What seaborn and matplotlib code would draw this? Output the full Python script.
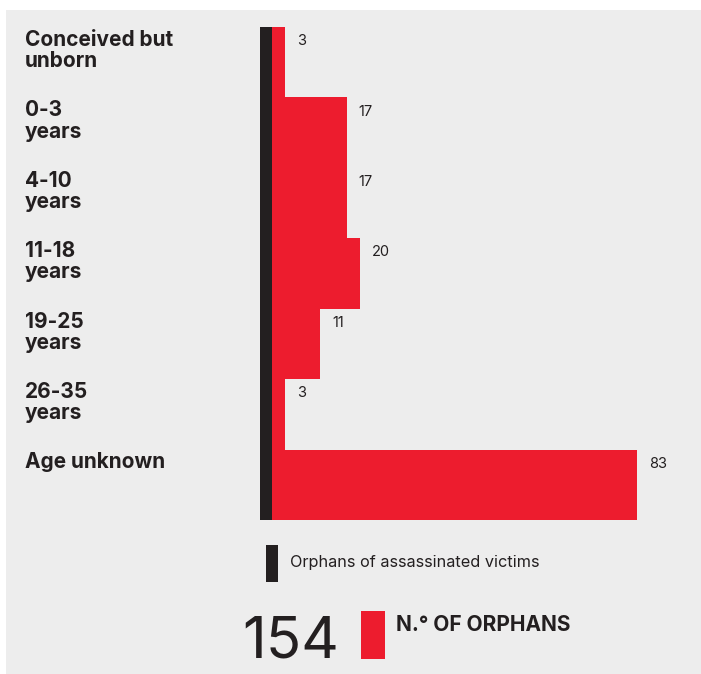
import pandas as pd
import matplotlib.pyplot as plt
import seaborn as sns
from matplotlib.patches import Rectangle

# Data.

age_groups = ['Conceived but\nunborn', '0-3\nyears', '4-10\nyears', '11-18\nyears',
              '19-25\nyears', '26-35\nyears', 'Age unknown']
orphans = [3, 17, 17, 20, 11, 3, 83]
total_orphans = 154

red = '#ed1c2e'
dark = '#231f20'
grey = '#ededed'

df = pd.DataFrame({'group': age_groups, 'orphans': orphans})

sns.set_style('white')
plt.rcParams['font.family'] = ['Inter', 'DejaVu Sans']

W, H = 701, 674
fig = plt.figure(figsize=(W / 100, H / 100), dpi=100)
fig.patch.set_facecolor('white')

# Grey panel behind everything.
fig.patches.append(Rectangle((6 / W, 0), 1, (H - 10) / H, transform=fig.transFigure,
                             facecolor=grey, edgecolor='none', zorder=-5))

# Axes placed so x=0 sits at the right edge of the black bar.
px_per_unit = 4.4
left_px, right_px, top_px, bot_px = 260, 697, 27, 520
ax = fig.add_axes([left_px / W, 1 - bot_px / H, (right_px - left_px) / W, (bot_px - top_px) / H])
ax.set_facecolor('none')
ax.set_zorder(2)

sns.barplot(data=df, x='orphans', y='group', orient='h', color=red, width=1.0,
            saturation=1, linewidth=0, ax=ax)
x0 = -(272 - left_px) / px_per_unit
ax.set_xlim(x0, x0 + (right_px - left_px) / px_per_unit)
ax.set_ylim(len(age_groups) - 0.5, -0.5)

# Black bar for orphans of assassinated victims.
ax.axvspan(x0, 0, color=dark, lw=0)

ax.set_xticks([])
ax.set_yticks([])
ax.set_xlabel('')
ax.set_ylabel('')
sns.despine(ax=ax, left=True, bottom=True)

# Category labels and values.
label_x = (25 - left_px) / (right_px - left_px)
for i, (g, v) in enumerate(zip(age_groups, orphans)):
    ax.text(label_x, i - 0.5 + 0.04, g, transform=ax.get_yaxis_transform(),
            ha='left', va='top', fontsize=15, fontweight='bold', color=dark,
            linespacing=1.08, clip_on=False)
    ax.text(v + 2.7, i - 0.5 + 0.2, str(v), ha='left', va='center',
            fontsize=10.5, color=dark)

# Legend and total.
fig.patches.append(Rectangle((266 / W, 1 - 582 / H), 12 / W, 37 / H, transform=fig.transFigure,
                             facecolor=dark, edgecolor='none', zorder=1))
fig.text(290 / W, 1 - 563 / H, 'Orphans of assassinated victims', ha='left', va='center',
         fontsize=11.7, color=dark)
fig.patches.append(Rectangle((361 / W, 1 - 659 / H), 24 / W, 48 / H, transform=fig.transFigure,
                             facecolor=red, edgecolor='none', zorder=1))
fig.text(242 / W, 1 - 657 / H, str(total_orphans), ha='left', va='baseline',
         fontsize=42, color=dark)
fig.text(396 / W, 1 - 615 / H, 'N.° OF ORPHANS', ha='left', va='top',
         fontsize=15, fontweight='bold', color=dark)

fig.savefig('out.png', dpi=100, facecolor=fig.get_facecolor())
